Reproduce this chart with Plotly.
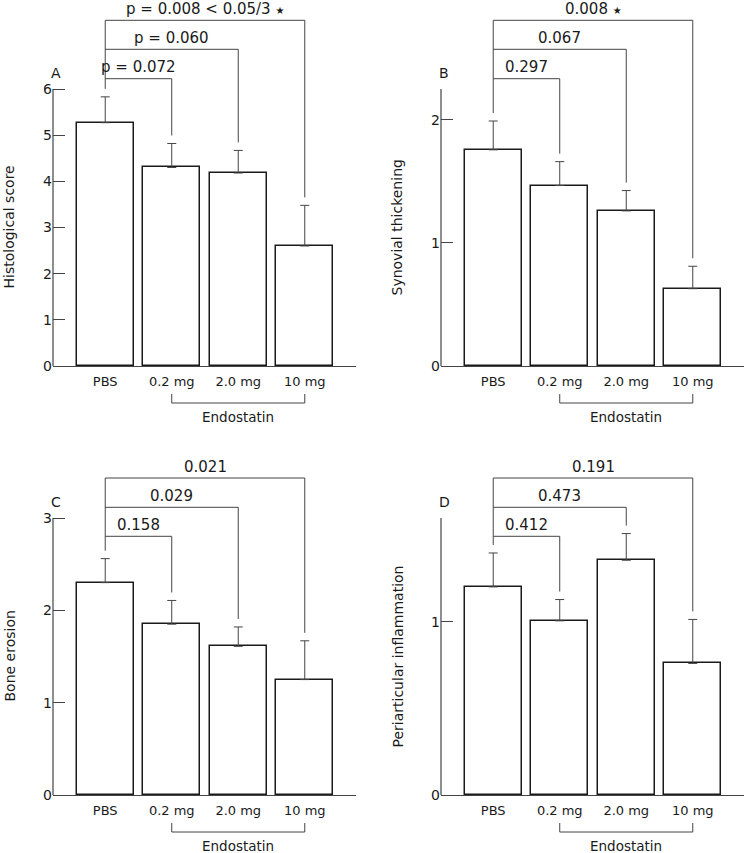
import plotly.graph_objects as go

# ---------------- data ----------------
categories = ["PBS", "0.2 mg", "2.0 mg", "10 mg"]

hist_mean = [5.27, 4.30, 4.18, 2.60]
hist_err = [0.56, 0.52, 0.49, 0.88]
hist_p = ["p = 0.072", "p = 0.060",
          "p = 0.008 < 0.05/3 <span style='font-size:10px'>★</span>"]
hist_ticks = [0, 1, 2, 3, 4, 5, 6]

syn_mean = [1.756, 1.466, 1.26, 0.628]
syn_err = [0.234, 0.194, 0.165, 0.182]
syn_p = ["0.297", "0.067", "0.008 <span style='font-size:10px'>★</span>"]
syn_ticks = [0, 1, 2]

bone_mean = [2.30, 1.85, 1.61, 1.25]
bone_err = [0.26, 0.257, 0.21, 0.42]
bone_p = ["0.158", "0.029", "0.021"]
bone_ticks = [0, 1, 2, 3]

peri_mean = [1.202, 1.006, 1.356, 0.76]
peri_err = [0.196, 0.123, 0.154, 0.254]
peri_p = ["0.412", "0.473", "0.191"]
peri_ticks = [0, 1]

group_label = "Endostatin"

# ---------------- layout helpers ----------------
W, H = 744, 853
PLOT_W = 303      # px width of each plot area
PLOT_H = 366      # px height of each plot area
AXIS_H = 277      # px length of the drawn y axis
GAP = 8           # px gap between error cap and bracket leg
FONT = "DejaVu Sans, sans-serif"
TXT = "#1a1a1a"
LINE = "#444444"

panels = [
    dict(letter="A", mean=hist_mean, err=hist_err, p=hist_p, ticks=hist_ticks, ymax=6,
         title="Histological score", left=53, bottom=366, levels=[287.3, 316.7, 345.7]),
    dict(letter="B", mean=syn_mean, err=syn_err, p=syn_p, ticks=syn_ticks, ymax=2.25,
         title="Synovial thickening", left=441, bottom=366, levels=[287.3, 316.7, 345.7]),
    dict(letter="C", mean=bone_mean, err=bone_err, p=bone_p, ticks=bone_ticks, ymax=3,
         title="Bone erosion", left=53, bottom=795, levels=[258.7, 287.7, 317.0]),
    dict(letter="D", mean=peri_mean, err=peri_err, p=peri_p, ticks=peri_ticks, ymax=1.6,
         title="Periarticular inflammation", left=441, bottom=795, levels=[258.7, 287.7, 317.0]),
]

fig = go.Figure()
shapes = []
annotations = []

for i, pn in enumerate(panels):
    n = "" if i == 0 else str(i + 1)
    xa, ya = "x" + n, "y" + n
    ppu = AXIS_H / pn["ymax"]           # px per data unit
    top_px = pn["bottom"] - PLOT_H
    err_top = [m + e for m, e in zip(pn["mean"], pn["err"])]

    fig.add_trace(go.Bar(
        x=categories, y=pn["mean"], xaxis=xa, yaxis=ya, width=0.857,
        marker=dict(color="white", line=dict(color="#1a1a1a", width=1.5)),
        error_y=dict(type="data", symmetric=False, array=pn["err"], arrayminus=[0] * 4,
                     color=LINE, thickness=1, width=4.5),
        showlegend=False, hoverinfo="skip",
    ))

    fig.layout["xaxis" + n] = dict(
        domain=[pn["left"] / W, min(1, (pn["left"] + PLOT_W) / W)],
        range=[-0.785, 3.77], anchor=ya, type="category", automargin=False,
        showline=True, linecolor=LINE, linewidth=1.2,
        ticks="outside", ticklen=3, tickcolor="rgba(0,0,0,0)",
        tickfont=dict(family=FONT, size=13, color=TXT),
        showgrid=False, zeroline=False, fixedrange=True,
    )
    fig.layout["yaxis" + n] = dict(
        domain=[1 - pn["bottom"] / H, 1 - top_px / H],
        range=[0, PLOT_H / ppu], anchor=xa, automargin=False,
        tickvals=pn["ticks"], ticktext=[str(t) for t in pn["ticks"]],
        ticks="inside", ticklen=12, tickcolor=LINE, tickwidth=1.2,
        tickfont=dict(family=FONT, size=14, color=TXT),
        showline=False, showgrid=False, zeroline=False, fixedrange=True,
    )

    # y axis line from 0 to ymax
    shapes.append(dict(type="line", xref=xa + " domain", yref=ya, x0=0, x1=0, y0=0, y1=pn["ymax"],
                       line=dict(color=LINE, width=1.2)))

    # significance brackets
    levels = [lv / ppu for lv in pn["levels"]]
    shapes.append(dict(type="line", xref=xa, yref=ya, x0=0, x1=0,
                       y0=err_top[0] + GAP / ppu, y1=levels[-1], line=dict(color=LINE, width=1)))
    for j in range(3):
        k = j + 1
        shapes.append(dict(type="line", xref=xa, yref=ya, x0=0, x1=k, y0=levels[j], y1=levels[j],
                           line=dict(color=LINE, width=1)))
        shapes.append(dict(type="line", xref=xa, yref=ya, x0=k, x1=k,
                           y0=err_top[k] + GAP / ppu, y1=levels[j], line=dict(color=LINE, width=1)))
        annotations.append(dict(xref=xa, yref=ya, x=k / 2, y=levels[j], yshift=11.5,
                                text=pn["p"][j], showarrow=False, xanchor="center", yanchor="middle",
                                font=dict(family=FONT, size=15, color=TXT)))

    # Endostatin group bracket below axis
    d = lambda px: -px / PLOT_H
    shapes.append(dict(type="line", xref=xa, yref=ya + " domain", x0=1, x1=3, y0=d(37), y1=d(37),
                       line=dict(color=LINE, width=1)))
    for k in (1, 3):
        shapes.append(dict(type="line", xref=xa, yref=ya + " domain", x0=k, x1=k, y0=d(28), y1=d(37),
                           line=dict(color=LINE, width=1)))
    annotations.append(dict(xref=xa, yref=ya + " domain", x=2, y=d(51), text=group_label,
                            showarrow=False, xanchor="center", yanchor="middle",
                            font=dict(family=FONT, size=13.5, color=TXT)))

    # panel letter
    annotations.append(dict(xref="paper", yref="paper", x=(pn["left"] + 3) / W,
                            y=1 - (pn["bottom"] - AXIS_H - 16) / H, text=pn["letter"],
                            showarrow=False, xanchor="center", yanchor="middle",
                            font=dict(family=FONT, size=14, color=TXT)))
    # y title
    annotations.append(dict(xref="paper", yref="paper", x=(pn["left"] - 44) / W,
                            y=1 - (pn["bottom"] - AXIS_H / 2) / H, text=pn["title"], textangle=-90,
                            showarrow=False, xanchor="center", yanchor="middle",
                            font=dict(family=FONT, size=14, color=TXT)))

fig.update_layout(
    template="none",
    width=W, height=H, margin=dict(l=0, r=0, t=0, b=0, pad=0, autoexpand=False), autosize=False,
    paper_bgcolor="white", plot_bgcolor="white",
    shapes=shapes, annotations=annotations, bargap=0,
    font=dict(family=FONT, color=TXT),
)

page_fix = ("document.documentElement.style.margin='0';document.documentElement.style.overflow='hidden';"
            "document.body.style.margin='0';document.body.style.padding='0';"
            "document.body.style.overflow='hidden';document.body.style.height='853px';")

fig.write_html("out.html", config=dict(displayModeBar=False, responsive=False),
               post_script=page_fix)
